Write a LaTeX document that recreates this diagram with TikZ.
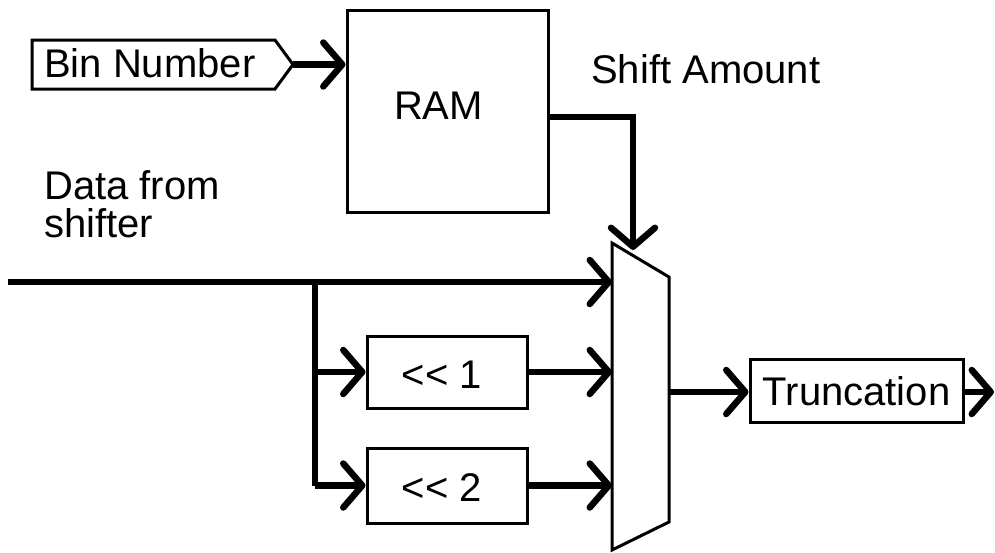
\documentclass[tikz,border=0pt]{standalone}
\usepackage{fontspec}
\setmainfont{Liberation Sans}[Ligatures=TeXOff]
\usetikzlibrary{arrows.meta}
\begin{document}
\begin{tikzpicture}[x=1pt,y=-1pt,
  wire/.style={line width=6.5pt},
  arr/.style={wire,-{Straight Barb[length=19pt,width=44pt,round]}},
  box/.style={draw,line width=3pt,inner sep=0pt},
  outline/.style={line width=3pt,line join=miter},
  lbl/.style={font=\fontsize{40}{38}\selectfont,inner sep=0pt}]
\useasboundingbox[fill=white] (0,0) rectangle (995,552);

% Bin Number tag
\coordinate (bintip) at (293,64.5);
\draw[outline] (32,40) -- (275,40) -- (bintip) -- (275,89) -- (32,89) -- cycle;
\node[lbl,anchor=base west] (bin) at (44,77) {Bin Number};

% RAM
\node[box,minimum width=201pt,minimum height=202pt] (ram) at (447.5,111) {};
\node[lbl,anchor=base] (ramtext) at (438.5,119) {RAM};

% labels
\node[lbl,anchor=base west] (shift) at (591,83) {Shift Amount};
\node[lbl,anchor=base west,align=left] (data) at (44,237) {Data from\\shifter};

% multiplexer
\coordinate (mtl) at (612,243);
\coordinate (mtr) at (669,277);
\coordinate (mbr) at (669,522);
\coordinate (mbl) at (612,550);
\draw[outline,fill=white] (mtl) -- (mtr) -- (mbr) -- (mbl) -- cycle;
\coordinate (sel) at (633,250);
\coordinate (mout) at (669,392);

% shifters
\node[box,minimum width=160pt,minimum height=72pt] (sh1) at (447,372) {};
\node[lbl,anchor=base] (sh1text) at (442,388) {<< 1};
\node[box,minimum width=160pt,minimum height=75pt] (sh2) at (447,485.5) {};
\node[lbl,anchor=base] (sh2text) at (442,501) {<< 2};

% truncation
\node[box,minimum width=213pt,minimum height=63pt,lbl,draw,line width=3pt] (trunc) at (856.5,391) {Truncation};

% wires
\coordinate (din) at (8,282);
\coordinate (split) at (315,282);
\coordinate (outend) at (994,392);

\draw[arr] (bintip) -- (ram.west |- bintip);
\draw[arr] ([yshift=-6pt]ram.east) -| (sel);
\draw[arr] (din) -- (din -| mtl);
\draw[wire] (split) -- (split |- sh2.west);
\draw[arr] (split |- sh1.west) -- (sh1.west);
\draw[arr] (split |- sh2.west) -- (sh2.west);
\draw[arr] (sh1.east) -- (sh1.east -| mtl);
\draw[arr] (sh2.east) -- (sh2.east -| mtl);
\draw[arr] (mout) -- (mout -| trunc.west);
\draw[arr] (trunc.east |- outend) -- (outend);
\end{tikzpicture}
\end{document}
